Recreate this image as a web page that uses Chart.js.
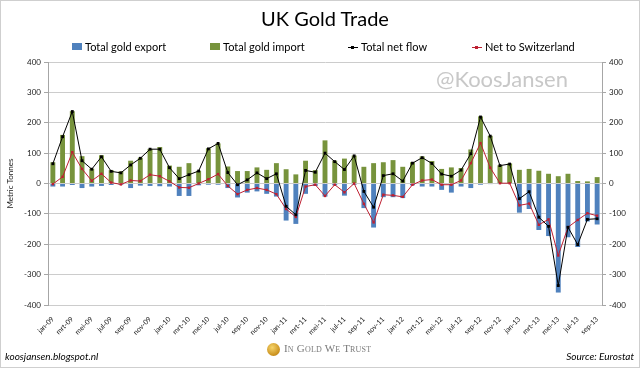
<!DOCTYPE html>
<html>
<head>
<meta charset="utf-8">
<title>UK Gold Trade</title>
<script src="https://cdn.jsdelivr.net/npm/chart.js@4.4.1/dist/chart.umd.min.js"></script>
<style>
    html, body { margin: 0; padding: 0; background: #fff; }
    #wrap { position: relative; width: 640px; height: 368px; overflow: hidden; font-family: Lato, 'Open Sans', sans-serif; color: #000; }
    #frame { position: absolute; left: 0; top: 0; width: 638px; height: 366px; border: 1px solid #cfcfcf; pointer-events: none; }
    #chart { position: absolute; left: 0; top: 0; }
    .title { position: absolute; left: 0; width: 650px; top: 6px; text-align: center; font-size: 20px; }
    .legend-item { position: absolute; top: 40px; height: 14px; line-height: 14px; font-size: 11px; white-space: nowrap; }
    .swatch { display: inline-block; position: relative; width: 10px; height: 14px; vertical-align: top; margin-right: 3px; }
    .swatch .box { position: absolute; left: 0; top: 3px; width: 10px; height: 7px; }
    .swatch .ln { position: absolute; left: 0; top: 7px; width: 10px; height: 1px; }
    .swatch .dot { position: absolute; left: 3px; top: 6px; width: 3px; height: 3px; }
    .watermark { position: absolute; left: 436px; top: 65px; font-size: 22px; color: #c8c8c8; }
    .blog { position: absolute; left: 5px; top: 350px; font-size: 10px; font-style: italic; }
    .source { position: absolute; right: 6px; top: 350px; font-size: 10px; font-style: italic; }
    .motto { position: absolute; left: 284px; top: 342px; font-family: 'Liberation Serif', serif; font-variant: small-caps; font-size: 11px; color: #7a7a7a; letter-spacing: 0.2px; }
    .coin { position: absolute; left: 267px; top: 343px; width: 13px; height: 13px; border-radius: 50%;
            background: radial-gradient(circle at 40% 35%, #f6d46a, #c98f1c 70%, #8a5a10); }
</style>
</head>
<body>
<div id="wrap">
    <canvas id="chart" width="640" height="368"></canvas>
    <div class="title">UK Gold Trade</div>
    <div id="legend"></div>
    <div class="watermark">@KoosJansen</div>
    <div class="coin"></div>
    <div class="motto">In Gold We Trust</div>
    <div class="blog">koosjansen.blogspot.nl</div>
    <div class="source">Source: Eurostat</div>
    <div id="frame"></div>
</div>
<script>
// months, Dutch short names as on the original axis
const months = [
    'jan-09', 'feb-09', 'mrt-09', 'apr-09', 'mei-09', 'jun-09', 'jul-09', 'aug-09', 'sep-09', 'okt-09', 'nov-09', 'dec-09',
    'jan-10', 'feb-10', 'mrt-10', 'apr-10', 'mei-10', 'jun-10', 'jul-10', 'aug-10', 'sep-10', 'okt-10', 'nov-10', 'dec-10',
    'jan-11', 'feb-11', 'mrt-11', 'apr-11', 'mei-11', 'jun-11', 'jul-11', 'aug-11', 'sep-11', 'okt-11', 'nov-11', 'dec-11',
    'jan-12', 'feb-12', 'mrt-12', 'apr-12', 'mei-12', 'jun-12', 'jul-12', 'aug-12', 'sep-12', 'okt-12', 'nov-12', 'dec-12',
    'jan-13', 'feb-13', 'mrt-13', 'apr-13', 'mei-13', 'jun-13', 'jul-13', 'aug-13', 'sep-13'
];

// metric tonnes
const goldExport = [
    -10, -10, -5, -15, -10, -8, -5, -4, -15, -7, -8, -9,
    -10, -41, -41, -6, -4, -4, -15, -46, -30, -26, -34, -43,
    -122, -133, -34, -8, -43, -6, -40, -4, -81, -145, -45, -45,
    -48, -6, -10, -10, -21, -30, -10, -15, -4, -2, -1, -1,
    -96, -84, -153, -173, -359, -177, -209, -125, -135
];
const goldImport = [
    70, 160, 238, 90, 49, 93, 44, 40, 75, 85, 114, 120,
    59, 55, 67, 42, 116, 132, 56, 41, 41, 53, 45, 67,
    47, 30, 75, 44, 142, 75, 82, 92, 55, 67, 70, 77,
    55, 70, 89, 74, 48, 53, 51, 112, 221, 157, 60, 66,
    45, 48, 42, 32, 24, 32, 8, 7, 21
];
const netFlow = [
    65, 154, 237, 75, 47, 88, 40, 35, 61, 83, 113, 113,
    52, 16, 29, 41, 114, 132, 36, -4, 12, 35, 16, 32,
    -75, -103, 43, 37, 100, 72, 46, 91, -26, -78, 26, 32,
    8, 67, 85, 66, 31, 24, 44, 98, 219, 156, 59, 64,
    -50, -27, -111, -141, -336, -144, -201, -118, -116
];
const netSwitzerland = [
    -2, 22, 103, 48, 9, 32, 3, -3, 10, 8, 29, 24,
    7, -13, -14, 0, 14, 31, -8, -35, -21, -15, -21, -35,
    -84, -110, -10, -4, -41, -4, -29, 0, -67, -128, -37, -39,
    -44, -4, 10, 13, -4, -4, 10, 67, 133, 52, 1, 1,
    -72, -66, -136, -118, -237, -144, -120, -98, -106
];

const yTicks = [-400, -300, -200, -100, 0, 100, 200, 300, 400];

const BLUE = '#4f81bd';
const GREEN = '#77933c';
const RED = '#be2032';
const GRID = '#cccccc';
const AXIS = '#a6a6a6';

const tickFont = { family: 'Lato', size: 8 };

function fixTicks(scale) {
    scale.ticks = yTicks.map(v => ({ value: v }));
}

const ctx = document.getElementById('chart').getContext('2d');
const chart = new Chart(ctx, {
    data: {
        labels: months,
        datasets: [
            {
                type: 'bar', label: 'Total gold export', data: goldExport,
                backgroundColor: BLUE, stack: 'trade', order: 2,
                barPercentage: 0.9, categoryPercentage: 0.56
            },
            {
                type: 'bar', label: 'Total gold import', data: goldImport,
                backgroundColor: GREEN, stack: 'trade', order: 2,
                barPercentage: 0.9, categoryPercentage: 0.56
            },
            {
                // own stack ids so the lines are not summed with anything
                type: 'line', label: 'Total net flow', data: netFlow, stack: 'net',
                borderColor: '#000', backgroundColor: '#000', borderWidth: 1,
                pointStyle: 'rect', pointRadius: 2, pointBorderWidth: 0, order: 0, tension: 0
            },
            {
                type: 'line', label: 'Net to Switzerland', data: netSwitzerland, stack: 'swiss',
                borderColor: RED, backgroundColor: RED, borderWidth: 1,
                pointStyle: 'rect', pointRadius: 1.7, pointBorderWidth: 0, order: 1, tension: 0
            }
        ]
    },
    options: {
        responsive: false,
        animation: false,
        layout: { padding: { top: 62, bottom: 28, left: 0, right: 0 } },
        plugins: {
            legend: { display: false },
            title: { display: false },
            tooltip: { enabled: false }
        },
        scales: {
            x: {
                stacked: true,
                offset: true,
                grid: { display: false },
                border: { display: false },
                ticks: {
                    autoSkip: false, maxRotation: 45, minRotation: 45, padding: 2,
                    font: { family: 'Lato', size: 7 }, color: '#222',
                    callback: function (value, index) {
                        return index % 2 === 0 ? this.getLabelForValue(value) : '';
                    }
                },
                afterFit: scale => { scale.height = 35; }
            },
            y: {
                position: 'left',
                stacked: true,
                min: -400, max: 400,
                afterBuildTicks: fixTicks,
                grid: { color: GRID, tickColor: AXIS, tickLength: 4 },
                border: { color: AXIS },
                ticks: { font: tickFont, color: '#222', padding: 3 },
                title: { display: true, text: 'Metric Tonnes', font: { family: 'Lato', size: 8 }, color: '#222', padding: { top: 6, bottom: 0 } },
                afterFit: scale => { scale.width = 48; }
            },
            y2: {
                position: 'right',
                min: -400, max: 400,
                afterBuildTicks: fixTicks,
                grid: { drawOnChartArea: false, tickColor: AXIS, tickLength: 4 },
                border: { color: AXIS },
                ticks: { font: tickFont, color: '#222', padding: 3 },
                afterFit: scale => { scale.width = 38; }
            }
        }
    }
});

// legend in html, laid out like the Excel one
const legendX = [72, 210, 348, 472];
const legendEl = document.getElementById('legend');
chart.data.datasets.forEach((ds, i) => {
    const item = document.createElement('div');
    item.className = 'legend-item';
    item.style.left = legendX[i] + 'px';
    const sw = ds.type === 'bar'
        ? `<span class="swatch"><span class="box" style="background:${ds.backgroundColor}"></span></span>`
        : `<span class="swatch"><span class="ln" style="background:${ds.borderColor}"></span><span class="dot" style="background:${ds.borderColor}"></span></span>`;
    item.innerHTML = sw + ds.label;
    legendEl.appendChild(item);
});
</script>
</body>
</html>
